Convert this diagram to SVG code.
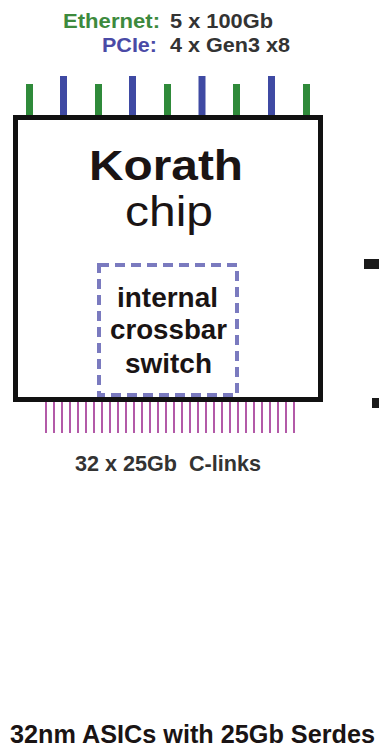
<svg xmlns="http://www.w3.org/2000/svg" width="379" height="748" viewBox="0 0 379 748">
<style>
.t{font-family:"Liberation Sans",Arial,sans-serif;font-weight:bold}
.eth{stroke:#2f8a3a;stroke-width:7}
.pci{stroke:#3f4aa3;stroke-width:7}
.cl{stroke:#b35aa8;stroke-width:2}
</style>
<rect width="379" height="748" fill="#fff"/>
<g id="legend">
<text class="t" x="63" y="28" font-size="20" fill="#3d8a3d" textLength="97" lengthAdjust="spacingAndGlyphs">Ethernet:</text>
<text class="t" x="170" y="28" font-size="20" fill="#333" textLength="103" lengthAdjust="spacingAndGlyphs">5 x 100Gb</text>
<text class="t" x="102" y="52" font-size="20" fill="#4a4aa6" textLength="55" lengthAdjust="spacingAndGlyphs">PCIe:</text>
<text class="t" x="170" y="52" font-size="20" fill="#333" textLength="120" lengthAdjust="spacingAndGlyphs">4 x Gen3 x8</text>
</g>
<g id="connectors">
<line class="eth" x1="29.5" y1="84" x2="29.5" y2="116"/>
<line class="pci" x1="63.5" y1="76" x2="63.5" y2="116"/>
<line class="eth" x1="98.5" y1="84" x2="98.5" y2="116"/>
<line class="pci" x1="132.5" y1="76" x2="132.5" y2="116"/>
<line class="eth" x1="167.5" y1="84" x2="167.5" y2="116"/>
<line class="pci" x1="202" y1="76" x2="202" y2="116"/>
<line class="eth" x1="236.5" y1="84" x2="236.5" y2="116"/>
<line class="pci" x1="271.5" y1="76" x2="271.5" y2="116"/>
<line class="eth" x1="306.5" y1="84" x2="306.5" y2="116"/>
<g id="clinks">
<line class="cl" x1="46" y1="401" x2="46" y2="433"/><line class="cl" x1="54" y1="401" x2="54" y2="433"/><line class="cl" x1="62" y1="401" x2="62" y2="433"/><line class="cl" x1="70" y1="401" x2="70" y2="433"/><line class="cl" x1="78" y1="401" x2="78" y2="433"/><line class="cl" x1="86" y1="401" x2="86" y2="433"/><line class="cl" x1="94" y1="401" x2="94" y2="433"/><line class="cl" x1="102" y1="401" x2="102" y2="433"/><line class="cl" x1="110" y1="401" x2="110" y2="433"/><line class="cl" x1="118" y1="401" x2="118" y2="433"/><line class="cl" x1="126" y1="401" x2="126" y2="433"/><line class="cl" x1="134" y1="401" x2="134" y2="433"/><line class="cl" x1="142" y1="401" x2="142" y2="433"/><line class="cl" x1="150" y1="401" x2="150" y2="433"/><line class="cl" x1="158" y1="401" x2="158" y2="433"/><line class="cl" x1="166" y1="401" x2="166" y2="433"/><line class="cl" x1="174" y1="401" x2="174" y2="433"/><line class="cl" x1="182" y1="401" x2="182" y2="433"/><line class="cl" x1="190" y1="401" x2="190" y2="433"/><line class="cl" x1="198" y1="401" x2="198" y2="433"/><line class="cl" x1="206" y1="401" x2="206" y2="433"/><line class="cl" x1="214" y1="401" x2="214" y2="433"/><line class="cl" x1="222" y1="401" x2="222" y2="433"/><line class="cl" x1="230" y1="401" x2="230" y2="433"/><line class="cl" x1="238" y1="401" x2="238" y2="433"/><line class="cl" x1="246" y1="401" x2="246" y2="433"/><line class="cl" x1="254" y1="401" x2="254" y2="433"/><line class="cl" x1="262" y1="401" x2="262" y2="433"/><line class="cl" x1="270" y1="401" x2="270" y2="433"/><line class="cl" x1="278" y1="401" x2="278" y2="433"/><line class="cl" x1="286" y1="401" x2="286" y2="433"/><line class="cl" x1="294" y1="401" x2="294" y2="433"/>
</g>
</g>
<g id="chip">
<rect x="15.5" y="117.5" width="305" height="282" fill="none" stroke="#111" stroke-width="5"/>
<text class="t" x="89" y="180" font-size="43" fill="#1a1414" textLength="154" lengthAdjust="spacingAndGlyphs">Korath</text>
<text x="125" y="226" font-size="43" fill="#1a1414" font-family="Liberation Sans,Arial,sans-serif" textLength="88" lengthAdjust="spacingAndGlyphs">chip</text>
</g>
<g id="crossbar">
<rect x="99" y="265" width="138" height="130" fill="none" stroke="#7a7abf" stroke-width="4" stroke-dasharray="10 6"/>
<text class="t" x="117" y="307" font-size="27" fill="#1a1414" textLength="101" lengthAdjust="spacingAndGlyphs">internal</text>
<text class="t" x="110" y="339" font-size="27" fill="#1a1414" textLength="117" lengthAdjust="spacingAndGlyphs">crossbar</text>
<text class="t" x="125" y="373" font-size="27" fill="#1a1414" textLength="87" lengthAdjust="spacingAndGlyphs">switch</text>
</g>
<text class="t" x="75" y="471" font-size="22" fill="#333" textLength="186" lengthAdjust="spacingAndGlyphs" xml:space="preserve">32 x 25Gb  C-links</text>
<rect x="364" y="259" width="15" height="10" fill="#1a1a1a"/>
<rect x="372" y="398" width="7" height="10" fill="#1a1a1a"/>
<text class="t" x="10" y="743" font-size="25" fill="#1a1414" textLength="365" lengthAdjust="spacingAndGlyphs">32nm ASICs with 25Gb Serdes</text>
</svg>
